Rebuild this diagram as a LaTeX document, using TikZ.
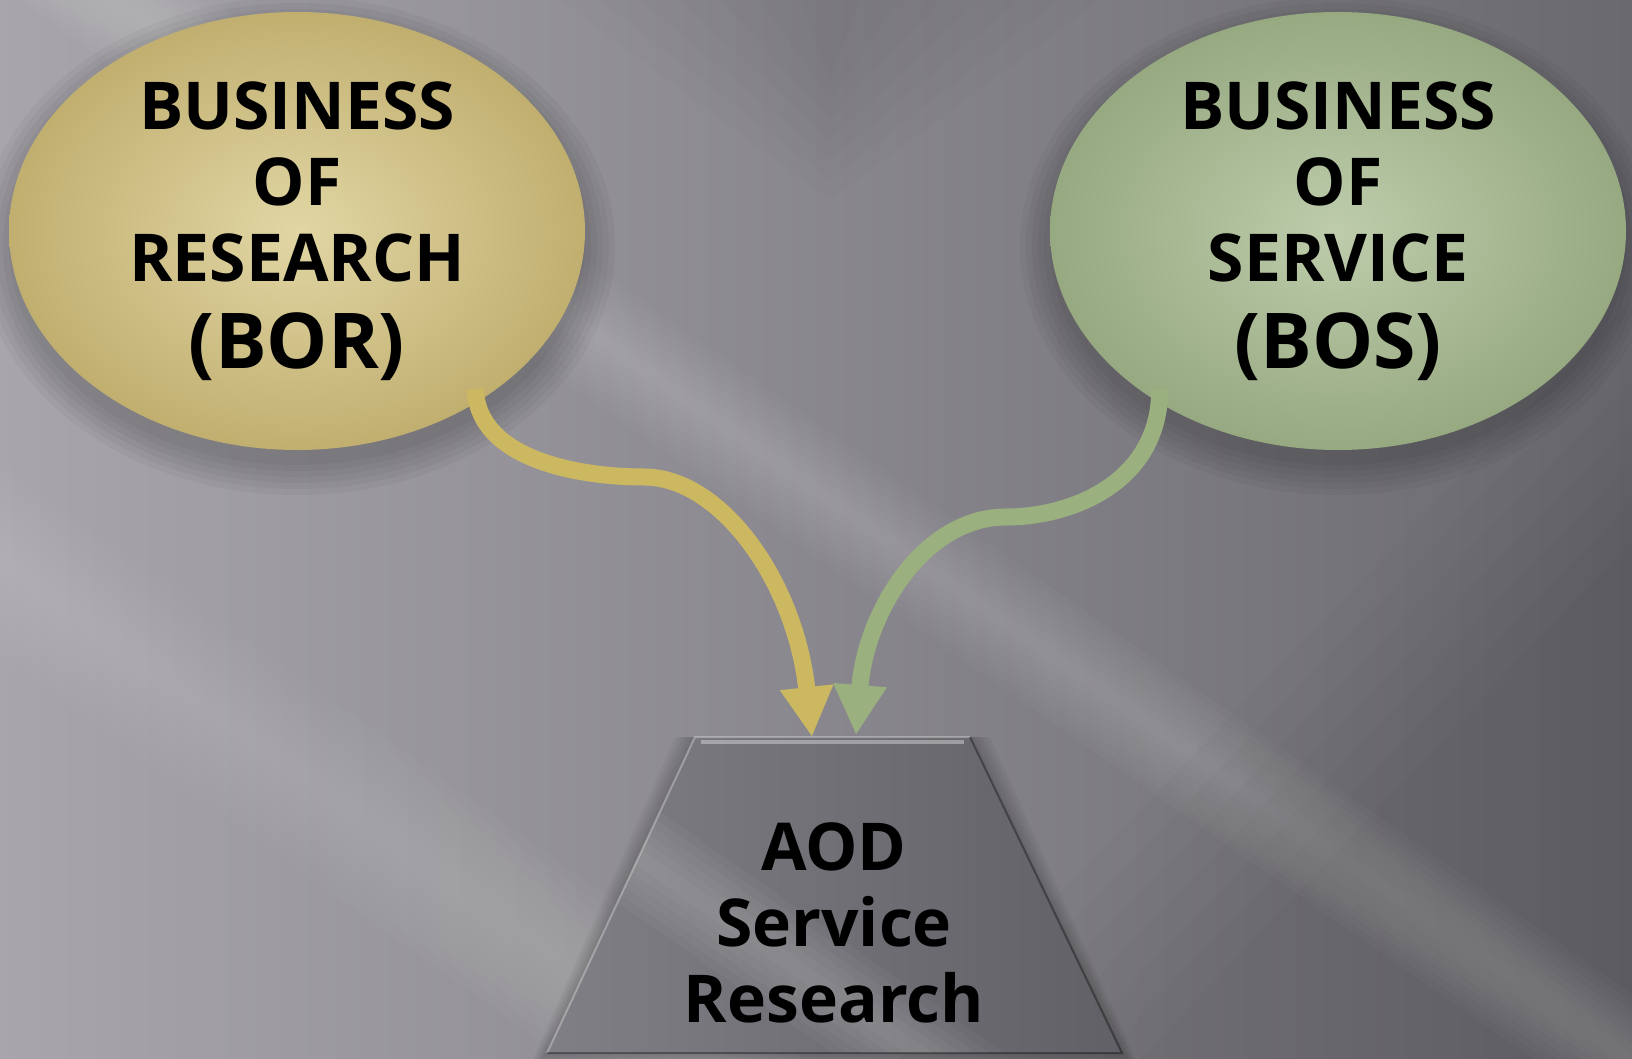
\documentclass[tikz,border=0pt]{standalone}
\usepackage{fontspec}
\setmainfont{Open Sans}
\usetikzlibrary{arrows.meta,shapes.geometric,calc}

\definecolor{bgLight}{HTML}{A8A6AC}
\definecolor{bgDark}{HTML}{6A696F}
\definecolor{borLight}{HTML}{E1D6A4}
\definecolor{borDark}{HTML}{C1AF70}
\definecolor{borArrow}{HTML}{CDB862}
\definecolor{bosLight}{HTML}{BECCAB}
\definecolor{bosDark}{HTML}{96A981}
\definecolor{bosArrow}{HTML}{9BB07F}
\definecolor{aodLight}{HTML}{807F85}
\definecolor{aodDark}{HTML}{616066}

\begin{document}
\begin{tikzpicture}[x=0.5pt, y=-0.5pt, >={Triangle[width=25pt,length=25pt]},
	bubble/.style={ellipse, minimum width=288pt, minimum height=219pt, inner sep=0pt,
		align=center, font=\fontsize{33}{38}\selectfont\bfseries},
	aodtext/.style={inner sep=0pt, align=center, font=\fontsize{33}{38}\selectfont\bfseries},
	flow/.style={->, line width=8.5pt}]

	\useasboundingbox (0,0) rectangle (1632,1059);

	% background
	\shade[left color=bgLight, right color=bgDark] (0,0) rectangle (1632,1059);
	\begin{scope}
		\clip (0,0) rectangle (1632,1059);
		\foreach \w in {12,24,...,96} {
			\fill[white, opacity=0.022] (116-\w,0) -- (116+\w,0) -- (1632+\w,1061) -- (1632-\w,1061) -- cycle;
			\fill[white, opacity=0.018] (-100,489-\w) -- (-100,489+\w) -- (800,1130+\w) -- (800,1130-\w) -- cycle;
		}
		\foreach \w in {0,40,...,240} {
			\fill[black, opacity=0.015] (1632,300+\w) -- (1632,1059) -- (900+\w,1059) -- cycle;
			\fill[black, opacity=0.012] (560+\w,0) -- (1100-\w,0) -- (830,200-\w/2) -- cycle;
		}
	\end{scope}

	% shadows
	\foreach \s in {0,6,...,30} {
		\fill[black, opacity=0.035] (297,246) ellipse ({288+\s} and {219+\s});
		\fill[black, opacity=0.035] (1338,246) ellipse ({288+\s} and {219+\s});
	}

	% the two businesses
	\node[bubble, shade, inner color=borLight, outer color=borDark] (bor) at (297,231)
		{BUSINESS\\OF\\RESEARCH\\[5.5pt]{\fontsize{38.5}{44}\selectfont(BOR)}};
	\node[bubble, shade, inner color=bosLight, outer color=bosDark] (bos) at (1338,231)
		{BUSINESS\\OF\\SERVICE\\[5.5pt]{\fontsize{38.5}{44}\selectfont(BOS)}};

	% trapezoid
	\coordinate (aodTL) at (695,737);
	\coordinate (aodTR) at (970,737);
	\coordinate (aodBR) at (1122,1053);
	\coordinate (aodBL) at (547,1053);
	\foreach \s in {4,8,...,20} {
		\fill[black, opacity=0.04] ($(aodTL)+(-\s,0)$) -- ($(aodTR)+(\s,0)$) -- ($(aodBR)+(\s,\s)$) -- ($(aodBL)+(-\s,\s)$) -- cycle;
	}
	\shade[left color=aodLight, right color=aodDark] (aodTL) -- (aodTR) -- (aodBR) -- (aodBL) -- cycle;
	\begin{scope}
		\clip (aodTL) -- (aodTR) -- (aodBR) -- (aodBL) -- cycle;
		\foreach \w in {10,20,...,60} {
			\fill[white, opacity=0.03] (500,760-\w) -- (500,760+\w) -- (1200,1250+\w) -- (1200,1250-\w) -- cycle;
		}
	\end{scope}
	\draw[white, opacity=0.35, line width=2pt] ($(aodTL)+(6,5)$) -- ($(aodTR)+(-6,5)$);
	\draw[white, opacity=0.3, line width=1pt] (aodBL) -- (aodTL) -- (aodTR);
	\draw[black, opacity=0.35, line width=1pt] (aodTR) -- (aodBR) -- (aodBL);
	\node[aodtext, anchor=north] (aod) at (834,822) {AOD\\Service\\Research};

	% arrows
	\coordinate (borIn) at (812,737);
	\coordinate (bosIn) at (856,735);
	\draw[flow, borArrow] ($(bor.-43)+(-4,-12)$) .. controls (478,460) and (580,477) .. (644,477)
		.. controls (720,477) and (795,580) .. (borIn);
	\draw[flow, bosArrow] ($(bos.-137)+(4,-12)$) .. controls (1160,480) and (1075,517) .. (1006,517)
		.. controls (925,517) and (866,610) .. (bosIn);

\end{tikzpicture}
\end{document}
